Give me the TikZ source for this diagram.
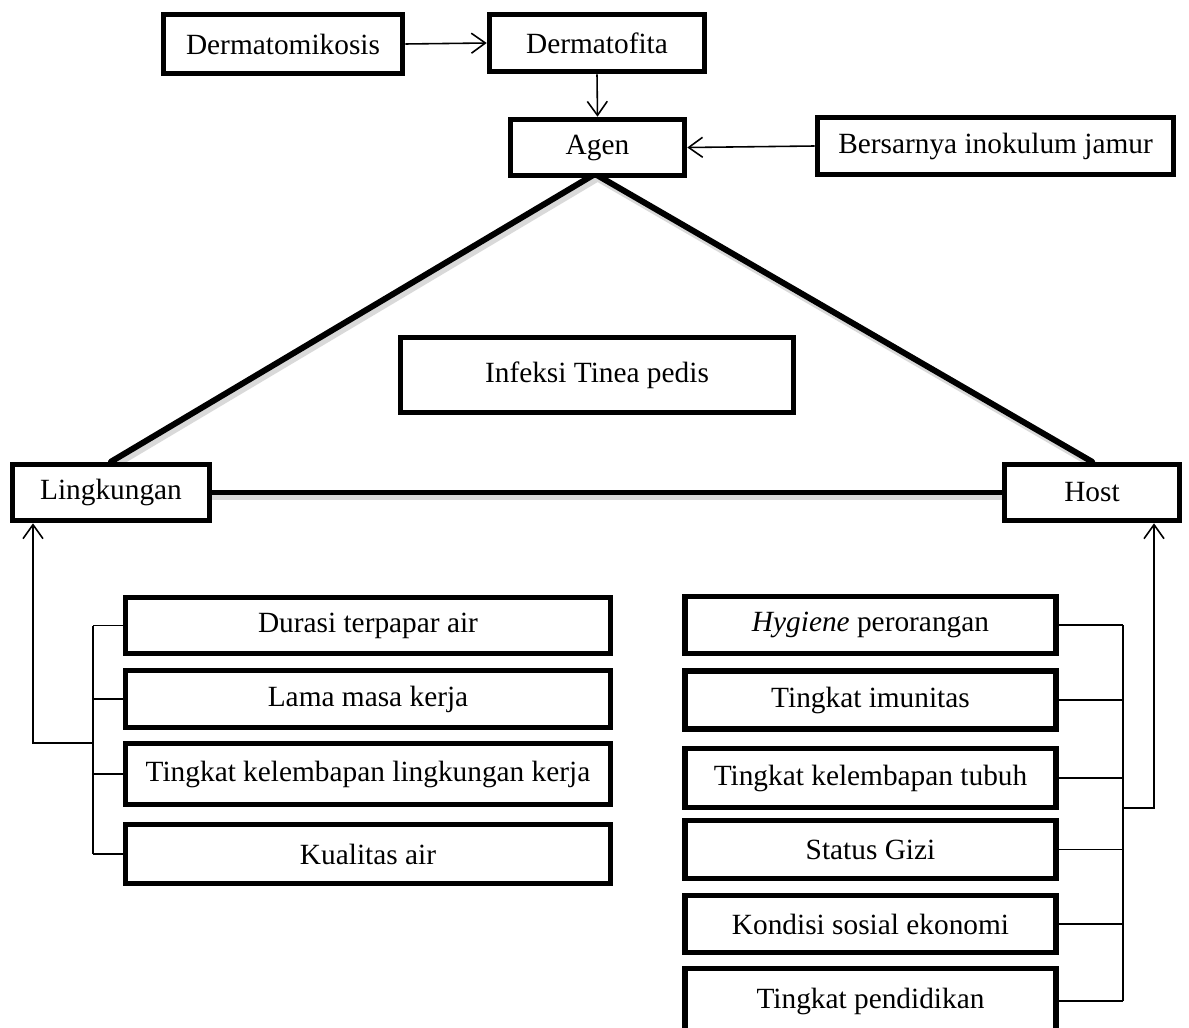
\documentclass[tikz,border=0pt]{standalone}
\usepackage{fontspec}
\setmainfont{Liberation Serif}
\usepackage{tikz}
\usetikzlibrary{backgrounds}
\usetikzlibrary{arrows.meta}

\begin{document}
\begin{tikzpicture}[x=0.02cm,y=-0.02cm,>={Straight Barb[length=2.8mm,width=4mm]}]
  \tikzstyle{every node}=[font=\fontsize{16.7}{20}\selectfont,text=black]
  \tikzstyle{kotak}=[draw=black,line width=3.2pt,fill=white,inner sep=0pt]
  \tikzstyle{panah}=[->,line width=0.9pt]
  \tikzstyle{garis}=[line width=0.9pt]
  \tikzstyle{sisi}=[line width=3.4pt,line cap=round]

  \useasboundingbox (0,0) rectangle (1189,1027);
  \clip (0,0) rectangle (1189,1027);

  \node [kotak,minimum width=4.78cm,minimum height=1.18cm] (dm)    at (283,44)    {Dermatomikosis};
  \node [kotak,minimum width=4.3cm,minimum height=1.14cm]  (df)    at (597,43)    {Dermatofita};
  \node [kotak,minimum width=3.48cm,minimum height=1.12cm] (agen)  at (597.5,147.5) {Agen};
  \node [kotak,minimum width=7.12cm,minimum height=1.14cm] (inok)  at (995.5,146) {Bersarnya inokulum jamur};
  \node [kotak,minimum width=7.86cm,minimum height=1.5cm]  (tinea) at (597,375)   {Infeksi Tinea pedis};
  \node [kotak,minimum width=3.94cm,minimum height=1.12cm] (ling)  at (111,492.5) {Lingkungan};
  \node [kotak,minimum width=3.5cm,minimum height=1.12cm]  (host)  at (1092,492.5) {Host};

  \node [kotak,minimum width=9.7cm,minimum height=1.12cm] (durasi)   at (368,625.5) {Durasi terpapar air};
  \node [kotak,minimum width=9.7cm,minimum height=1.14cm] (masa)     at (368,699)   {Lama masa kerja};
  \node [kotak,minimum width=9.7cm,minimum height=1.22cm] (lembabl)  at (368,774)   {Tingkat kelembapan lingkungan kerja};
  \node [kotak,minimum width=9.7cm,minimum height=1.18cm] (kualitas) at (368,854)   {Kualitas air};

  \node [kotak,minimum width=7.42cm,minimum height=1.14cm] (hygiene)  at (870.5,625)  {\textit{Hygiene} perorangan};
  \node [kotak,minimum width=7.42cm,minimum height=1.16cm] (imun)     at (870.5,700)  {Tingkat imunitas};
  \node [kotak,minimum width=7.42cm,minimum height=1.18cm] (lembabt)  at (870.5,778)  {Tingkat kelembapan tubuh};
  \node [kotak,minimum width=7.42cm,minimum height=1.16cm] (gizi)     at (870.5,849.5) {Status Gizi};
  \node [kotak,minimum width=7.42cm,minimum height=1.14cm] (sosek)    at (870.5,924)  {Kondisi sosial ekonomi};
  \node [kotak,minimum width=7.42cm,minimum height=1.3cm]  (didik)    at (870.5,1001) {Tingkat pendidikan};

  \coordinate (puncak)  at (595,174);
  \coordinate (busL)    at (93,625);
  \coordinate (cabangL) at (93,743);
  \coordinate (panahL)  at (33,743);
  \coordinate (busR)    at (1123,625);
  \coordinate (cabangR) at (1123,808);
  \coordinate (panahR)  at (1154,808);

  \begin{pgfonlayer}{background}
    \draw [sisi,draw=gray!30,line width=4.5pt,transform canvas={xshift=1.5pt,yshift=-2pt}] (ling.north) -- (puncak) -- (host.north);
    \draw [sisi,draw=gray!30,line width=4.5pt,transform canvas={yshift=-2pt}] (ling.east) -- (host.west);
    \draw [sisi] (ling.north) -- (puncak) -- (host.north);
    \draw [sisi] (ling.east) -- (host.west);
  \end{pgfonlayer}

  \draw [panah] (dm.east) -- (df.west);
  \draw [panah] (df.south) -- (agen.north);
  \draw [panah] (inok.west) -- (agen.east);

  \foreach \n in {durasi,masa,lembabl,kualitas}
    \draw [garis] (\n.west) -- (\n.west -| busL);
  \draw [garis] (durasi.west -| busL) -- (kualitas.west -| busL);
  \draw [panah] (cabangL) -- (panahL) -- (panahL |- ling.south);

  \foreach \n in {hygiene,imun,lembabt,gizi,sosek,didik}
    \draw [garis] (\n.east) -- (\n.east -| busR);
  \draw [garis] (hygiene.east -| busR) -- (didik.east -| busR);
  \draw [panah] (cabangR) -- (panahR) -- (panahR |- host.south);
\end{tikzpicture}
\end{document}
